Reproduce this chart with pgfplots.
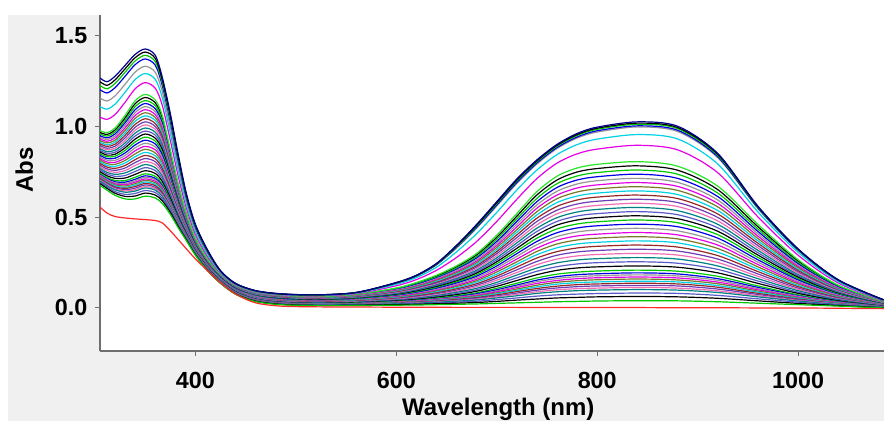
\documentclass[border=0pt]{standalone}
\usepackage{fontspec}
\setmainfont{Liberation Sans}
\usepackage{pgfplots}
\usepackage{pgfplotstable}
\pgfplotsset{compat=1.18}
\definecolor{panel}{RGB}{240,240,240}
\definecolor{axgray}{RGB}{110,110,110}
\definecolor{cA}{RGB}{0,0,0}
\definecolor{cB}{RGB}{0,0,230}
\definecolor{cC}{RGB}{0,200,0}
\definecolor{cD}{RGB}{230,0,230}
\definecolor{cE}{RGB}{0,210,230}
\definecolor{cF}{RGB}{150,150,150}
\definecolor{cG}{RGB}{150,40,40}
\definecolor{cH}{RGB}{120,120,40}
\definecolor{cI}{RGB}{110,60,180}
\definecolor{cJ}{RGB}{0,130,130}
\definecolor{cK}{RGB}{240,110,180}
\definecolor{cL}{RGB}{90,90,200}
\definecolor{lime}{RGB}{40,230,40}
\definecolor{navy}{RGB}{0,0,140}
\definecolor{redline}{RGB}{255,40,40}
\pgfplotscreateplotcyclelist{band}{%
{draw=cA}\\{draw=cC}\\{draw=cB}\\{draw=cF}\\{draw=cD}\\{draw=cH}\\{draw=cE}\\{draw=cG}\\{draw=cI}\\{draw=cK}\\{draw=cJ}\\{draw=cL}\\}
% columns: x, red, band k0..k26, cluster c0..c8, s1 s2 L, magenta cyan gray d1 d2 d3 top
\pgfplotstableread[header=false]{
305 0.555 0.975 0.966 0.957 0.948 0.939 0.930 0.921 0.912 0.903 0.894 0.885 0.876 0.867 0.858 0.849 0.840 0.831 0.822 0.813 0.804 0.795 0.786 0.777 0.768 0.759 0.750 0.741 0.735 0.731 0.726 0.722 0.717 0.713 0.708 0.704 0.699 0.692 0.684 0.675 1.050 1.108 1.155 1.201 1.224 1.245 1.265
312 0.522 0.965 0.955 0.946 0.936 0.927 0.917 0.908 0.898 0.889 0.879 0.870 0.860 0.851 0.841 0.832 0.822 0.813 0.803 0.794 0.784 0.775 0.765 0.756 0.746 0.737 0.727 0.718 0.711 0.707 0.702 0.697 0.692 0.688 0.683 0.678 0.673 0.665 0.658 0.648 1.038 1.094 1.139 1.183 1.206 1.225 1.245
320 0.503 0.990 0.979 0.968 0.957 0.946 0.935 0.923 0.912 0.901 0.890 0.879 0.868 0.857 0.846 0.835 0.824 0.812 0.801 0.790 0.779 0.768 0.757 0.746 0.735 0.724 0.713 0.701 0.694 0.688 0.683 0.677 0.672 0.666 0.661 0.655 0.650 0.640 0.631 0.620 1.064 1.121 1.167 1.212 1.235 1.255 1.275
330 0.495 1.060 1.046 1.032 1.019 1.005 0.991 0.977 0.963 0.950 0.936 0.922 0.908 0.894 0.881 0.867 0.853 0.839 0.825 0.812 0.798 0.784 0.770 0.756 0.743 0.729 0.715 0.701 0.692 0.685 0.678 0.671 0.664 0.658 0.651 0.644 0.637 0.625 0.614 0.600 1.132 1.187 1.231 1.275 1.297 1.316 1.335
340 0.490 1.140 1.124 1.108 1.091 1.075 1.059 1.043 1.027 1.010 0.994 0.978 0.962 0.946 0.929 0.913 0.897 0.881 0.865 0.848 0.832 0.816 0.800 0.784 0.767 0.751 0.735 0.719 0.708 0.700 0.692 0.684 0.676 0.668 0.659 0.651 0.643 0.630 0.616 0.600 1.206 1.257 1.298 1.339 1.359 1.377 1.395
350 0.486 1.175 1.158 1.141 1.125 1.108 1.091 1.074 1.057 1.041 1.024 1.007 0.990 0.973 0.957 0.940 0.923 0.906 0.889 0.873 0.856 0.839 0.822 0.805 0.789 0.772 0.755 0.738 0.727 0.719 0.710 0.702 0.693 0.685 0.677 0.668 0.660 0.646 0.632 0.615 1.240 1.290 1.330 1.370 1.390 1.408 1.425
360 0.481 1.145 1.129 1.113 1.096 1.080 1.064 1.048 1.032 1.015 0.999 0.983 0.967 0.951 0.934 0.918 0.902 0.886 0.870 0.853 0.837 0.821 0.805 0.789 0.772 0.756 0.740 0.724 0.713 0.705 0.697 0.689 0.681 0.673 0.664 0.656 0.648 0.635 0.621 0.605 1.209 1.258 1.297 1.336 1.356 1.373 1.390
367 0.468 1.060 1.045 1.031 1.016 1.002 0.987 0.973 0.958 0.944 0.929 0.915 0.900 0.885 0.871 0.856 0.842 0.827 0.813 0.798 0.784 0.769 0.754 0.740 0.725 0.711 0.696 0.682 0.672 0.665 0.657 0.650 0.643 0.636 0.628 0.621 0.614 0.602 0.590 0.575 1.115 1.157 1.190 1.224 1.241 1.255 1.270
375 0.425 0.870 0.859 0.849 0.838 0.827 0.817 0.806 0.795 0.785 0.774 0.764 0.753 0.742 0.732 0.721 0.710 0.700 0.689 0.678 0.668 0.657 0.646 0.636 0.625 0.614 0.604 0.593 0.586 0.581 0.575 0.570 0.565 0.559 0.554 0.549 0.543 0.535 0.526 0.515 0.922 0.962 0.994 1.026 1.042 1.056 1.070
383 0.375 0.680 0.673 0.666 0.658 0.651 0.644 0.637 0.630 0.622 0.615 0.608 0.601 0.594 0.586 0.579 0.572 0.565 0.558 0.550 0.543 0.536 0.529 0.522 0.514 0.507 0.500 0.493 0.488 0.484 0.481 0.477 0.474 0.470 0.466 0.463 0.459 0.453 0.447 0.440 0.722 0.754 0.779 0.805 0.818 0.829 0.840
391 0.325 0.520 0.516 0.511 0.507 0.502 0.498 0.493 0.489 0.484 0.480 0.475 0.471 0.466 0.462 0.457 0.453 0.448 0.444 0.439 0.435 0.430 0.426 0.421 0.417 0.412 0.408 0.403 0.400 0.398 0.396 0.393 0.391 0.389 0.387 0.384 0.382 0.378 0.375 0.370 0.549 0.571 0.588 0.606 0.615 0.622 0.630
400 0.270 0.385 0.382 0.379 0.376 0.374 0.371 0.368 0.365 0.362 0.359 0.357 0.354 0.351 0.348 0.345 0.342 0.339 0.337 0.334 0.331 0.328 0.325 0.322 0.319 0.317 0.314 0.311 0.309 0.308 0.306 0.305 0.303 0.302 0.300 0.299 0.298 0.295 0.293 0.290 0.405 0.420 0.432 0.444 0.450 0.455 0.460
412 0.205 0.270 0.268 0.266 0.264 0.262 0.260 0.258 0.256 0.254 0.252 0.251 0.249 0.247 0.245 0.243 0.241 0.239 0.237 0.235 0.233 0.231 0.229 0.227 0.225 0.223 0.221 0.219 0.218 0.217 0.216 0.215 0.214 0.213 0.212 0.211 0.210 0.209 0.207 0.205 0.283 0.293 0.301 0.309 0.313 0.317 0.320
425 0.138 0.185 0.184 0.182 0.181 0.179 0.178 0.176 0.175 0.173 0.172 0.170 0.169 0.167 0.166 0.164 0.163 0.161 0.160 0.158 0.157 0.155 0.154 0.152 0.151 0.149 0.148 0.146 0.145 0.144 0.143 0.143 0.142 0.141 0.140 0.140 0.139 0.138 0.137 0.135 0.190 0.194 0.197 0.201 0.202 0.204 0.205
440 0.076 0.125 0.124 0.122 0.121 0.119 0.118 0.116 0.115 0.113 0.112 0.110 0.109 0.107 0.106 0.104 0.103 0.101 0.100 0.098 0.097 0.095 0.094 0.092 0.091 0.089 0.088 0.086 0.085 0.084 0.083 0.083 0.082 0.081 0.080 0.080 0.079 0.078 0.077 0.075 0.128 0.130 0.131 0.133 0.134 0.134 0.135
460 0.028 0.088 0.086 0.085 0.083 0.082 0.080 0.078 0.077 0.075 0.074 0.072 0.071 0.069 0.067 0.066 0.064 0.063 0.061 0.059 0.058 0.056 0.055 0.053 0.051 0.050 0.048 0.047 0.046 0.045 0.044 0.043 0.042 0.042 0.041 0.040 0.039 0.038 0.037 0.035 0.090 0.091 0.092 0.093 0.094 0.095 0.095
485 0.010 0.070 0.068 0.067 0.065 0.064 0.062 0.061 0.059 0.058 0.056 0.054 0.053 0.051 0.050 0.048 0.047 0.045 0.043 0.042 0.040 0.039 0.037 0.036 0.034 0.033 0.031 0.029 0.028 0.028 0.027 0.026 0.025 0.025 0.024 0.023 0.022 0.021 0.020 0.018 0.072 0.074 0.075 0.076 0.077 0.077 0.078
520 0.006 0.062 0.061 0.059 0.058 0.056 0.055 0.053 0.052 0.050 0.049 0.047 0.046 0.044 0.043 0.041 0.040 0.038 0.037 0.036 0.034 0.033 0.031 0.030 0.028 0.027 0.025 0.024 0.023 0.022 0.021 0.021 0.020 0.019 0.018 0.018 0.017 0.016 0.014 0.013 0.066 0.069 0.071 0.071 0.071 0.072 0.072
560 0.005 0.075 0.073 0.071 0.069 0.068 0.066 0.064 0.062 0.060 0.058 0.056 0.055 0.053 0.051 0.049 0.047 0.045 0.043 0.042 0.040 0.038 0.036 0.034 0.032 0.030 0.029 0.027 0.025 0.024 0.024 0.023 0.022 0.021 0.020 0.019 0.018 0.016 0.015 0.013 0.079 0.082 0.084 0.084 0.084 0.085 0.085
600 0.004 0.110 0.107 0.104 0.101 0.099 0.096 0.093 0.090 0.087 0.084 0.082 0.079 0.076 0.073 0.070 0.067 0.064 0.062 0.059 0.056 0.053 0.050 0.047 0.044 0.042 0.039 0.036 0.034 0.033 0.031 0.030 0.028 0.027 0.025 0.024 0.023 0.020 0.018 0.015 0.122 0.130 0.136 0.137 0.138 0.139 0.140
620 0.004 0.140 0.136 0.133 0.129 0.125 0.121 0.118 0.114 0.110 0.107 0.103 0.099 0.095 0.092 0.088 0.084 0.080 0.077 0.073 0.069 0.066 0.062 0.058 0.054 0.051 0.047 0.043 0.041 0.039 0.037 0.035 0.033 0.032 0.030 0.028 0.026 0.023 0.020 0.016 0.156 0.167 0.175 0.176 0.178 0.179 0.180
640 0.004 0.180 0.175 0.170 0.165 0.161 0.156 0.151 0.146 0.141 0.136 0.131 0.127 0.122 0.117 0.112 0.107 0.102 0.097 0.093 0.088 0.083 0.078 0.073 0.068 0.063 0.059 0.054 0.050 0.048 0.046 0.043 0.041 0.038 0.036 0.033 0.031 0.027 0.023 0.018 0.207 0.224 0.237 0.239 0.241 0.243 0.245
660 0.003 0.232 0.226 0.219 0.213 0.207 0.200 0.194 0.187 0.181 0.175 0.168 0.162 0.156 0.149 0.143 0.137 0.130 0.124 0.118 0.111 0.105 0.098 0.092 0.086 0.079 0.073 0.067 0.062 0.059 0.056 0.053 0.050 0.047 0.043 0.040 0.037 0.032 0.026 0.020 0.278 0.309 0.330 0.334 0.338 0.342 0.345
680 0.003 0.300 0.292 0.283 0.275 0.267 0.258 0.250 0.242 0.233 0.225 0.217 0.208 0.200 0.192 0.183 0.175 0.167 0.158 0.150 0.142 0.133 0.125 0.117 0.108 0.100 0.092 0.083 0.078 0.073 0.069 0.065 0.061 0.057 0.053 0.048 0.044 0.037 0.030 0.022 0.366 0.409 0.439 0.444 0.450 0.455 0.460
700 0.003 0.400 0.389 0.378 0.366 0.355 0.344 0.333 0.321 0.310 0.299 0.288 0.276 0.265 0.254 0.243 0.231 0.220 0.209 0.198 0.186 0.175 0.164 0.153 0.141 0.130 0.119 0.108 0.100 0.094 0.089 0.083 0.078 0.072 0.066 0.061 0.055 0.046 0.036 0.025 0.476 0.526 0.561 0.567 0.574 0.579 0.585
720 0.003 0.520 0.505 0.490 0.476 0.461 0.446 0.431 0.417 0.402 0.387 0.372 0.358 0.343 0.328 0.313 0.299 0.284 0.269 0.254 0.240 0.225 0.210 0.195 0.181 0.166 0.151 0.136 0.126 0.119 0.112 0.104 0.097 0.090 0.082 0.075 0.067 0.055 0.043 0.028 0.598 0.649 0.685 0.691 0.699 0.704 0.710
740 0.002 0.640 0.622 0.603 0.585 0.567 0.549 0.530 0.512 0.494 0.476 0.457 0.439 0.421 0.402 0.384 0.366 0.348 0.329 0.311 0.293 0.275 0.256 0.238 0.220 0.202 0.183 0.165 0.153 0.144 0.135 0.125 0.116 0.107 0.098 0.089 0.080 0.065 0.049 0.031 0.712 0.759 0.792 0.798 0.805 0.810 0.815
760 0.002 0.725 0.704 0.684 0.663 0.642 0.621 0.601 0.580 0.559 0.538 0.518 0.497 0.476 0.456 0.435 0.414 0.393 0.373 0.352 0.331 0.310 0.290 0.269 0.248 0.227 0.207 0.186 0.172 0.162 0.151 0.141 0.131 0.120 0.110 0.100 0.089 0.072 0.055 0.034 0.797 0.844 0.877 0.883 0.890 0.895 0.900
780 0.002 0.770 0.748 0.726 0.704 0.682 0.660 0.638 0.616 0.594 0.572 0.550 0.528 0.506 0.484 0.462 0.440 0.418 0.396 0.374 0.352 0.330 0.308 0.286 0.264 0.242 0.220 0.197 0.183 0.172 0.161 0.150 0.139 0.128 0.117 0.106 0.095 0.076 0.058 0.036 0.848 0.899 0.935 0.941 0.949 0.954 0.960
800 0.002 0.790 0.767 0.745 0.722 0.700 0.677 0.655 0.632 0.610 0.587 0.564 0.542 0.519 0.497 0.474 0.452 0.429 0.406 0.384 0.361 0.339 0.316 0.294 0.271 0.249 0.226 0.203 0.188 0.177 0.166 0.155 0.143 0.132 0.121 0.109 0.098 0.079 0.061 0.038 0.874 0.929 0.968 0.975 0.983 0.989 0.995
840 0.002 0.805 0.782 0.759 0.736 0.713 0.690 0.667 0.644 0.621 0.598 0.576 0.553 0.530 0.507 0.484 0.461 0.438 0.415 0.392 0.369 0.346 0.323 0.300 0.277 0.254 0.231 0.208 0.193 0.182 0.170 0.159 0.147 0.136 0.124 0.113 0.101 0.082 0.063 0.040 0.895 0.954 0.996 1.002 1.011 1.017 1.024
880 0.001 0.780 0.758 0.736 0.713 0.691 0.669 0.647 0.624 0.602 0.580 0.558 0.535 0.513 0.491 0.469 0.447 0.424 0.402 0.380 0.358 0.335 0.313 0.291 0.269 0.246 0.224 0.202 0.187 0.176 0.165 0.154 0.143 0.132 0.121 0.109 0.098 0.080 0.061 0.039 0.870 0.930 0.971 0.978 0.987 0.993 1.000
920 0.001 0.670 0.651 0.632 0.613 0.594 0.575 0.556 0.536 0.517 0.498 0.479 0.460 0.441 0.422 0.403 0.384 0.365 0.346 0.327 0.307 0.288 0.269 0.250 0.231 0.212 0.193 0.174 0.161 0.152 0.142 0.133 0.123 0.114 0.104 0.094 0.085 0.069 0.053 0.034 0.744 0.792 0.827 0.832 0.839 0.845 0.850
960 0.000 0.460 0.447 0.434 0.421 0.408 0.395 0.382 0.369 0.356 0.343 0.330 0.317 0.304 0.291 0.278 0.265 0.252 0.239 0.226 0.213 0.200 0.187 0.174 0.161 0.148 0.135 0.121 0.113 0.106 0.100 0.093 0.087 0.080 0.074 0.067 0.061 0.050 0.039 0.026 0.501 0.528 0.547 0.550 0.554 0.557 0.560
1000 0.000 0.265 0.258 0.250 0.243 0.235 0.228 0.221 0.213 0.206 0.198 0.191 0.183 0.176 0.169 0.161 0.154 0.146 0.139 0.132 0.124 0.117 0.109 0.102 0.095 0.087 0.080 0.072 0.067 0.064 0.060 0.056 0.053 0.049 0.045 0.041 0.038 0.032 0.025 0.018 0.290 0.306 0.317 0.319 0.321 0.323 0.325
1040 -0.002 0.125 0.122 0.118 0.115 0.111 0.108 0.104 0.101 0.097 0.094 0.091 0.087 0.084 0.080 0.077 0.073 0.070 0.066 0.063 0.059 0.056 0.053 0.049 0.046 0.042 0.039 0.035 0.033 0.031 0.030 0.028 0.026 0.024 0.023 0.021 0.019 0.016 0.013 0.010 0.137 0.145 0.151 0.152 0.153 0.154 0.155
1085 -0.004 0.035 0.034 0.033 0.032 0.031 0.030 0.029 0.028 0.027 0.026 0.025 0.023 0.022 0.021 0.020 0.019 0.018 0.017 0.016 0.015 0.014 0.013 0.012 0.011 0.010 0.009 0.008 0.007 0.006 0.006 0.005 0.005 0.004 0.004 0.003 0.003 0.002 0.001 0.000 0.039 0.042 0.044 0.044 0.044 0.045 0.045
}\spectra
\begin{document}
\begin{tikzpicture}[x=1pt,y=1pt]
\useasboundingbox (0,0) rectangle (663,315.75);
\fill[panel] (6,0) rectangle (663,304.5);
\begin{axis}[
  at={(75pt,52.5pt)}, anchor=south west,
  width=588pt, height=252pt, scale only axis,
  xmin=305, xmax=1085.5, ymin=-0.237, ymax=1.612,
  axis background/.style={fill=white},
  axis x line*=bottom, axis y line*=left,
  axis line style={-, draw=axgray, line width=0.8pt},
  x axis line style={-}, y axis line style={-},
  tick align=outside, major tick length=4pt,
  major tick style={draw=axgray, line width=0.8pt},
  xtick={400,600,800,1000}, ytick={0,0.5,1,1.5},
  /pgf/number format/assume math mode=true,
  xticklabel style={yshift=-8pt, /pgf/number format/1000 sep={}},
  yticklabel style={xshift=-2pt, /pgf/number format/.cd,fixed,fixed zerofill,precision=1},
  tick label style={font=\fontsize{17.5}{20}\selectfont\bfseries},
  xlabel={Wavelength (nm)}, ylabel={Abs},
  every axis x label/.style={at={(axis description cs:0.508,-0.1905)}, anchor=base, font=\fontsize{18}{21}\selectfont\bfseries},
  every axis y label/.style={at={(axis description cs:-0.0855,0.539)}, anchor=base, rotate=90, font=\fontsize{18}{21}\selectfont\bfseries},
  cycle list name=band,
  every axis plot/.append style={line width=0.9pt, mark=none, smooth},
]
\pgfplotsinvokeforeach{3,...,40}{\addplot+[] table[x index=0, y index=#1]{\spectra};}
\addplot[draw=lime] table[x index=0, y index=2]{\spectra};
\addplot[draw=cD] table[x index=0, y index=41]{\spectra};
\addplot[draw=cE] table[x index=0, y index=42]{\spectra};
\addplot[draw=cF] table[x index=0, y index=43]{\spectra};
\addplot[draw=cB] table[x index=0, y index=44]{\spectra};
\addplot[draw=cC] table[x index=0, y index=45]{\spectra};
\addplot[draw=cA] table[x index=0, y index=46]{\spectra};
\addplot[draw=navy] table[x index=0, y index=47]{\spectra};
\addplot[draw=redline] table[x index=0, y index=1]{\spectra};
\end{axis}
\end{tikzpicture}
\end{document}
